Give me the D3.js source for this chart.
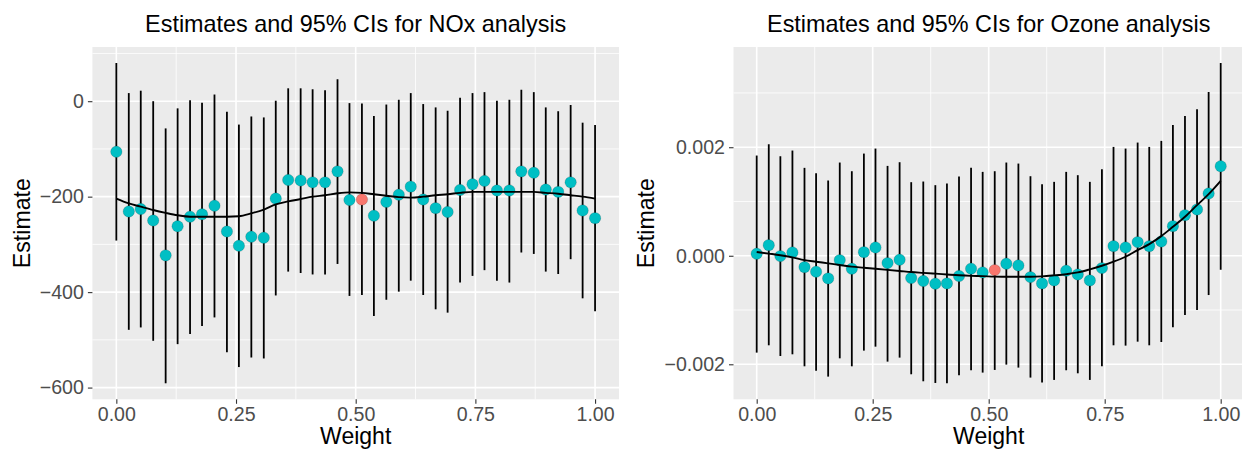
<!DOCTYPE html>
<html>
<head>
<meta charset="utf-8">
<script src="https://cdn.jsdelivr.net/npm/d3@7"></script>
<style>
  html, body { margin: 0; padding: 0; background: #ffffff; }
  svg { display: block; font-family: "Liberation Sans", Arial, Helvetica, sans-serif; }
</style>
</head>
<body>
<svg id="chart" width="1242" height="450"></svg>
<script>
// Weight grid shared by both analyses
const weights = [0.000, 0.026, 0.051, 0.077, 0.103, 0.128, 0.154, 0.179, 0.205, 0.231,
                 0.256, 0.282, 0.308, 0.333, 0.359, 0.385, 0.410, 0.436, 0.462, 0.487,
                 0.513, 0.538, 0.564, 0.590, 0.615, 0.641, 0.667, 0.692, 0.718, 0.744,
                 0.769, 0.795, 0.821, 0.846, 0.872, 0.897, 0.923, 0.949, 0.974, 1.000];
const selectedWeight = 0.513;

// NOx analysis
const noxEstimate = [-106, -231, -226, -250, -323, -262, -242, -237, -219, -273,
                     -303, -284, -286, -204, -165, -166, -170, -170, -147, -207,
                     -206, -240, -211, -196, -179, -206, -224, -232, -186, -174,
                     -167, -187, -187, -147, -150, -185, -190, -170, -229, -245];
const noxLower = [-292, -479, -474, -502, -591, -509, -488, -471, -453, -526,
                  -557, -537, -539, -407, -357, -360, -363, -363, -341, -408,
                  -406, -450, -416, -399, -376, -406, -436, -443, -380, -366,
                  -354, -376, -380, -317, -320, -357, -362, -331, -413, -440];
const noxUpper = [80, 17, 22, 0, -57, -15, 2, -3, 14, -22,
                  -49, -32, -34, 1, 27, 27, 25, 23, 46, -4,
                  -5, -31, -7, 3, 17, -6, -13, -20, 7, 17,
                  19, 1, 3, 24, 19, -13, -21, -8, -45, -50];
const noxSmooth = [-204, -214, -221, -228, -234, -239, -242, -242, -242, -242,
                   -241, -235, -227, -216, -210, -205, -200, -197, -193, -191,
                   -192, -195, -198, -201, -202, -200, -197, -195, -192, -190,
                   -190, -190, -190, -190, -190, -192, -194, -197, -200, -204];
const noxTicks = [-600, -400, -200, 0];

// Ozone analysis
const ozoneEstimate = [0.000037, 0.000196, -0.000006, 0.000061, -0.000209, -0.000294, -0.000417, -0.000080, -0.000239, 0.000067,
                       0.000153, -0.000135, -0.000074, -0.000411, -0.000466, -0.000515, -0.000509, -0.000374, -0.000239, -0.000307,
                       -0.000264, -0.000147, -0.000178, -0.000393, -0.000509, -0.000454, -0.000276, -0.000344, -0.000454, -0.000227,
                       0.000178, 0.000153, 0.000252, 0.000178, 0.000264, 0.000546, 0.000748, 0.000853, 0.001147, 0.001650];
const ozoneLower = [-0.001785, -0.001650, -0.001847, -0.001816, -0.002037, -0.002117, -0.002227, -0.001890, -0.002037, -0.001748,
                    -0.001675, -0.001951, -0.001877, -0.002184, -0.002313, -0.002344, -0.002350, -0.002202, -0.002110, -0.002153,
                    -0.002104, -0.002006, -0.002061, -0.002245, -0.002337, -0.002288, -0.002110, -0.002166, -0.002288, -0.002037,
                    -0.001650, -0.001656, -0.001583, -0.001650, -0.001589, -0.001319, -0.001092, -0.001000, -0.000724, -0.000258];
const ozoneUpper = [0.001847, 0.002055, 0.001834, 0.001939, 0.001620, 0.001521, 0.001387, 0.001718, 0.001558, 0.001883,
                    0.001975, 0.001656, 0.001724, 0.001356, 0.001368, 0.001301, 0.001331, 0.001460, 0.001620, 0.001546,
                    0.001558, 0.001718, 0.001699, 0.001466, 0.001319, 0.001362, 0.001546, 0.001485, 0.001362, 0.001595,
                    0.002006, 0.001975, 0.002086, 0.002006, 0.002117, 0.002411, 0.002577, 0.002699, 0.003018, 0.003552];
const ozoneSmooth = [0.000070, 0.000040, 0.000010, -0.000030, -0.000080, -0.000110, -0.000140, -0.000170, -0.000200, -0.000220,
                     -0.000240, -0.000260, -0.000280, -0.000300, -0.000315, -0.000330, -0.000345, -0.000360, -0.000370, -0.000375,
                     -0.000385, -0.000387, -0.000387, -0.000387, -0.000380, -0.000362, -0.000340, -0.000307, -0.000250, -0.000184,
                     -0.000110, -0.000018, 0.000104, 0.000215, 0.000362, 0.000534, 0.000718, 0.000933, 0.001135, 0.001380];
const ozoneTicks = [-0.002, 0.000, 0.002];

const weightTicks = [0, 0.25, 0.5, 0.75, 1];

const COLORS = {
  panel: "#EBEBEB",
  grid: "#FFFFFF",
  point: "#00BFC4",
  selected: "#F8766D",
  tickText: "#4D4D4D",
  tickLine: "#333333"
};

const svg = d3.select("#chart");

function drawPanel(opts) {
  const { left, right, top, bottom, title, est, lo, hi, smooth, yTicks, yFormat, yLabelX } = opts;

  // ggplot-style 5% expansion of the data ranges
  const xMin = d3.min(weights), xMax = d3.max(weights);
  const xPad = (xMax - xMin) * 0.05;
  const yMin = d3.min(lo), yMax = d3.max(hi);
  const yPad = (yMax - yMin) * 0.05;

  const x = d3.scaleLinear().domain([xMin - xPad, xMax + xPad]).range([left, right]);
  const y = d3.scaleLinear().domain([yMin - yPad, yMax + yPad]).range([bottom, top]);

  const g = svg.append("g");

  g.append("rect")
    .attr("x", left).attr("y", top)
    .attr("width", right - left).attr("height", bottom - top)
    .attr("fill", COLORS.panel);

  // minor grid lines, halfway between major breaks
  const minorStepY = (yTicks[1] - yTicks[0]) / 2;
  const yMinor = d3.range(yTicks[0] - minorStepY, y.domain()[1], minorStepY * 2)
    .filter(v => v >= y.domain()[0] && v <= y.domain()[1]);
  const minorStepX = (weightTicks[1] - weightTicks[0]) / 2;
  const xMinor = d3.range(weightTicks[0] - minorStepX, x.domain()[1], minorStepX * 2)
    .filter(v => v >= x.domain()[0] && v <= x.domain()[1]);

  const grid = g.append("g");
  grid.selectAll(".ymin").data(yMinor).join("line")
    .attr("x1", left).attr("x2", right)
    .attr("y1", d => y(d)).attr("y2", d => y(d))
    .attr("stroke", COLORS.grid).attr("stroke-width", 0.8);
  grid.selectAll(".xmin").data(xMinor).join("line")
    .attr("y1", top).attr("y2", bottom)
    .attr("x1", d => x(d)).attr("x2", d => x(d))
    .attr("stroke", COLORS.grid).attr("stroke-width", 0.8);
  grid.selectAll(".ymaj").data(yTicks).join("line")
    .attr("x1", left).attr("x2", right)
    .attr("y1", d => y(d)).attr("y2", d => y(d))
    .attr("stroke", COLORS.grid).attr("stroke-width", 1.6);
  grid.selectAll(".xmaj").data(weightTicks).join("line")
    .attr("y1", top).attr("y2", bottom)
    .attr("x1", d => x(d)).attr("x2", d => x(d))
    .attr("stroke", COLORS.grid).attr("stroke-width", 1.6);

  const rows = weights.map((w, i) => ({ w, est: est[i], lo: lo[i], hi: hi[i], sm: smooth[i] }));

  // confidence intervals
  g.append("g").selectAll("line").data(rows).join("line")
    .attr("x1", d => x(d.w)).attr("x2", d => x(d.w))
    .attr("y1", d => y(d.lo)).attr("y2", d => y(d.hi))
    .attr("stroke", "#000").attr("stroke-width", 1.8);

  // point estimates
  g.append("g").selectAll("circle").data(rows).join("circle")
    .attr("cx", d => x(d.w)).attr("cy", d => y(d.est))
    .attr("r", 5.7)
    .attr("fill", d => d.w === selectedWeight ? COLORS.selected : COLORS.point)
    .attr("stroke", "rgba(0,0,0,0.25)").attr("stroke-width", 0.6);

  // smoothed trend
  g.append("path")
    .datum(rows)
    .attr("fill", "none")
    .attr("stroke", "#000")
    .attr("stroke-width", 1.9)
    .attr("d", d3.line().x(d => x(d.w)).y(d => y(d.sm)).curve(d3.curveMonotoneX));

  // axes
  const yAxis = d3.axisLeft(y).tickValues(yTicks).tickFormat(yFormat).tickSize(4.5).tickPadding(4);
  const ya = g.append("g").attr("transform", `translate(${left},0)`).call(yAxis);
  ya.select(".domain").remove();
  ya.selectAll(".tick line").attr("stroke", COLORS.tickLine).attr("stroke-width", 1.1);
  ya.selectAll(".tick text").attr("fill", COLORS.tickText)
    .style("font-size", "19.6px").style("font-family", "'Liberation Sans', Arial, sans-serif");

  const xAxis = d3.axisBottom(x).tickValues(weightTicks).tickFormat(d3.format(".2f")).tickSize(4.5).tickPadding(3);
  const xa = g.append("g").attr("transform", `translate(0,${bottom})`).call(xAxis);
  xa.select(".domain").remove();
  xa.selectAll(".tick line").attr("stroke", COLORS.tickLine).attr("stroke-width", 1.1);
  xa.selectAll(".tick text").attr("fill", COLORS.tickText)
    .style("font-size", "19.6px").style("font-family", "'Liberation Sans', Arial, sans-serif");

  const cx = (left + Math.min(right, 1244)) / 2;

  g.append("text")
    .attr("x", cx).attr("y", 32)
    .attr("text-anchor", "middle")
    .style("font-size", "23.4px")
    .attr("fill", "#000")
    .text(title);

  g.append("text")
    .attr("x", cx).attr("y", 444.3)
    .attr("text-anchor", "middle")
    .style("font-size", "23px")
    .attr("fill", "#000")
    .text("Weight");

  g.append("text")
    .attr("transform", `translate(${yLabelX},${(top + bottom) / 2}) rotate(-90)`)
    .attr("text-anchor", "middle")
    .style("font-size", "23.2px")
    .attr("fill", "#000")
    .text("Estimate");
}

drawPanel({
  left: 92.4, right: 619, top: 47, bottom: 399.3,
  title: "Estimates and 95% CIs for NOx analysis",
  est: noxEstimate, lo: noxLower, hi: noxUpper, smooth: noxSmooth,
  yTicks: noxTicks, yFormat: d3.format("d"), yLabelX: 30
});

drawPanel({
  left: 733.5, right: 1243.9, top: 47, bottom: 399.3,
  title: "Estimates and 95% CIs for Ozone analysis",
  est: ozoneEstimate, lo: ozoneLower, hi: ozoneUpper, smooth: ozoneSmooth,
  yTicks: ozoneTicks, yFormat: d3.format(".3f"), yLabelX: 654
});
</script>
</body>
</html>
